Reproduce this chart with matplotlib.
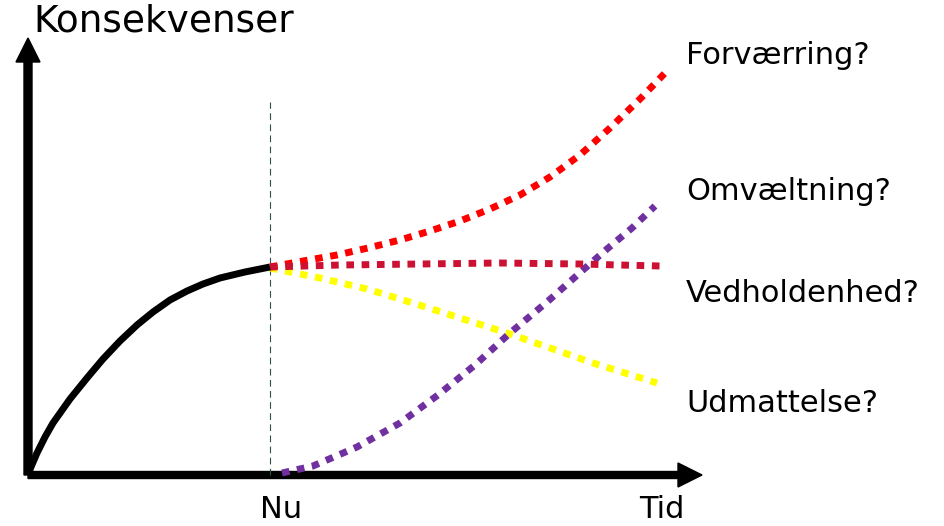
import matplotlib.pyplot as plt
from matplotlib.patches import FancyArrow

# data space: x = time, y = consequence (origin at lower-left of the axes)
now_x = 242

past_x = [0, 3, 9, 17, 25, 42, 59, 75, 92, 109, 125, 142, 159, 175, 192, 217, 242]
past_y = [0, 8, 22, 38, 52, 76, 97, 116, 134, 150, 163, 175, 184, 191, 197, 203, 208]

worse_x = [242, 275, 309, 340, 372, 402, 432, 462, 492, 522, 552, 582, 612, 637]
worse_y = [208, 214, 220, 227, 235, 244, 254, 266, 280, 298, 320, 347, 376, 402]

stable_x = [242, 312, 392, 472, 552, 632]
stable_y = [208, 210, 211, 212, 211, 209]

tired_x = [242, 292, 339, 385, 432, 479, 522, 565, 629]
tired_y = [207, 197, 186, 172, 157, 142, 127, 112, 92]

upheaval_x = [254, 285, 329, 372, 410, 447, 482, 519, 555, 579, 604, 627]
upheaval_y = [2, 9, 28, 52, 80, 110, 142, 173, 205, 226, 247, 269]

labels = ["Forværring?", "Omvæltning?", "Vedholdenhed?", "Udmattelse?"]
label_y = [420, 283, 182, 72]

fig = plt.figure(figsize=(9.44, 5.26), dpi=100)
ax = fig.add_axes([0, 0, 1, 1])
ax.set_xlim(-28, 916)
ax.set_ylim(-51, 475)
ax.axis("off")

# axes arrows
ax.add_patch(FancyArrow(0, 0, 0, 413, width=8, head_width=24, head_length=24,
                        length_includes_head=False, color="black"))
ax.add_patch(FancyArrow(0, 0, 650, 0, width=7, head_width=24, head_length=24,
                        length_includes_head=False, color="black"))

ax.plot([now_x, now_x], [0, 373], color="#2f4f4f", lw=0.8, ls=(0, (6, 4)))

ax.plot(past_x, past_y, color="black", lw=5, solid_capstyle="butt",
        solid_joinstyle="round", zorder=3)

dot = (0, (1.1, 1.1))
kw = dict(lw=5, dash_capstyle="butt")
ax.plot(tired_x, tired_y, color="#ffff00", ls=dot, **kw)
ax.plot(upheaval_x, upheaval_y, color="#7030a0", ls=dot, **kw)
ax.plot(worse_x, worse_y, color="#ff0000", ls=dot, **kw)
ax.plot(stable_x, stable_y, color="#cc1133", ls=dot, **kw)

for lab, ly in zip(labels, label_y):
    ax.text(658, ly, lab, fontsize=22, va="center", ha="left")

ax.text(5, 453, "Konsekvenser", fontsize=27, va="center", ha="left")
ax.text(now_x + 11, -35, "Nu", fontsize=22, va="center", ha="center")
ax.text(634, -35, "Tid", fontsize=22, va="center", ha="center")

fig.savefig("out.png", dpi=100)
